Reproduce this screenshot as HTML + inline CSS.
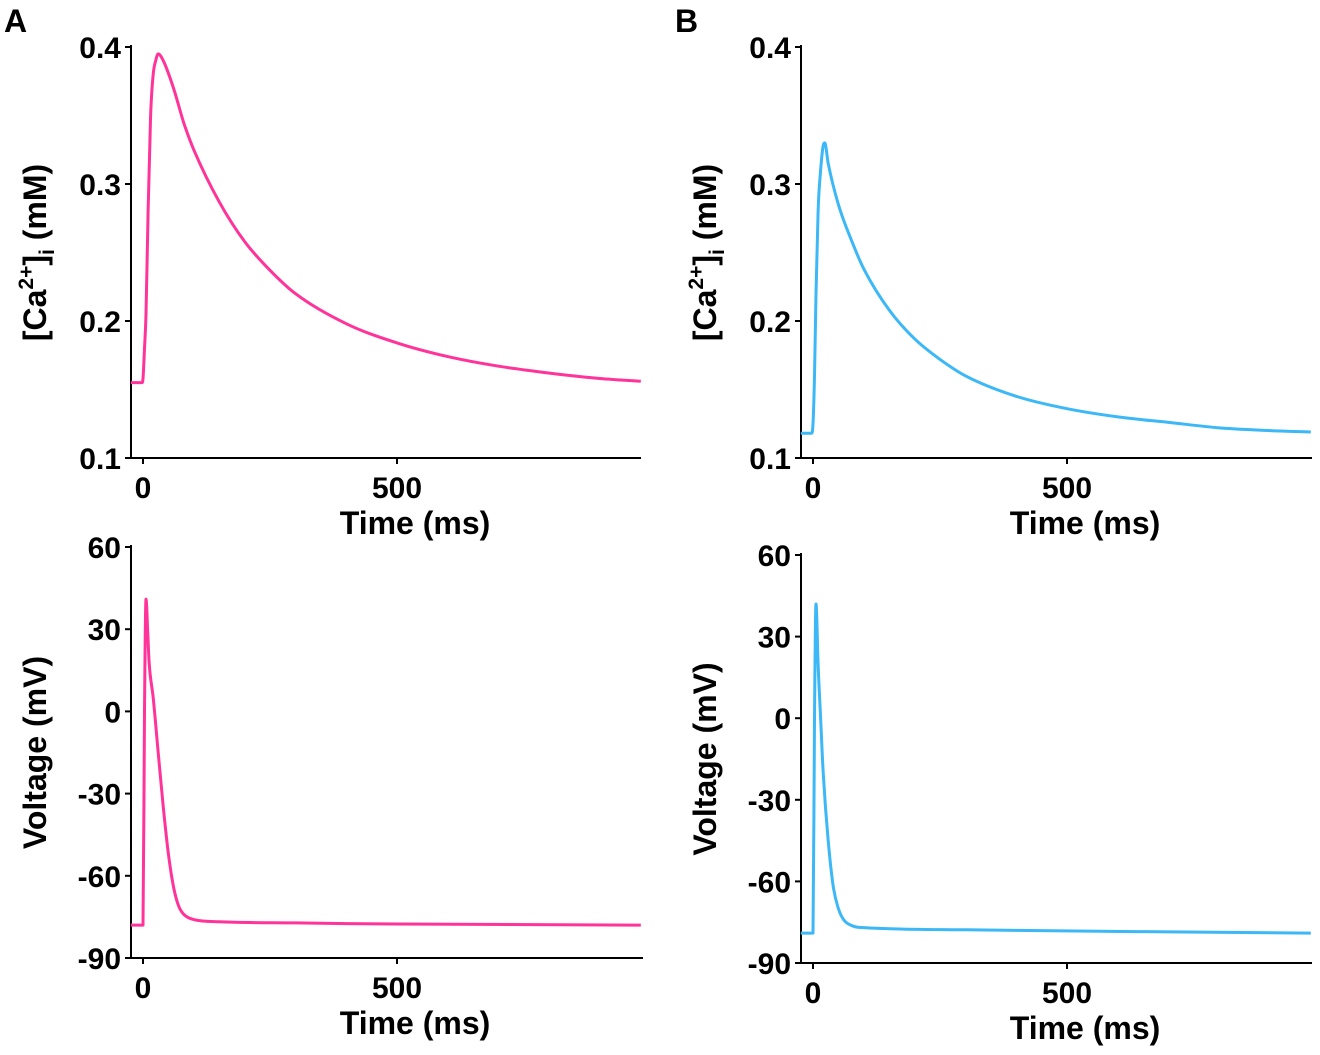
<!DOCTYPE html>
<html><head><meta charset="utf-8"><style>
html,body{margin:0;padding:0;background:#fff;}
svg{display:block;font-family:"Liberation Sans",Arial,sans-serif;font-weight:bold;}
</style></head><body>
<svg id="fig" width="1320" height="1055" viewBox="0 0 1320 1055">
<text x="4" y="32" font-size="32">A</text>
<text x="675" y="32" font-size="32">B</text>
</svg>
<script>
// Panel A calcium
const caA_t=[-24,-2,0,3,6,10,15,20,25,30,40,60,80,100,150,200,250,300,400,500,600,700,800,900,980];
const caA_v=[0.155,0.155,0.158,0.18,0.205,0.28,0.35,0.38,0.39,0.395,0.39,0.37,0.345,0.325,0.287,0.258,0.237,0.22,0.198,0.184,0.174,0.167,0.162,0.158,0.156];
// Panel B calcium
const caB_t=[-24,-3,0,3,6,10,15,20,23,30,50,80,100,150,200,250,300,400,500,600,700,800,900,980];
const caB_v=[0.118,0.118,0.125,0.16,0.22,0.28,0.31,0.328,0.33,0.315,0.285,0.255,0.238,0.208,0.187,0.172,0.16,0.145,0.136,0.13,0.126,0.122,0.12,0.119];
// Panel A voltage
const vA_t=[-24,-1,0,3,6,9,12,20,30,40,50,60,70,80,100,150,300,500,980];
const vA_v=[-78,-78,-78,0,41,30,18,5,-15,-35,-52,-64,-71,-74,-76,-76.8,-77.2,-77.6,-78];
// Panel B voltage
const vB_t=[-24,-1,0,3,6,10,15,20,30,40,50,60,80,100,300,980];
const vB_v=[-79,-79,-79,0,42,20,0,-20,-45,-62,-70,-74,-76.5,-77,-77.8,-79];
const caTicks=[0.4,0.3,0.2,0.1];
const caTickLabels=["0.4","0.3","0.2","0.1"];
const vTicks=[60,30,0,-30,-60,-90];
const vTickLabels=["60","30","0","-30","-60","-90"];
const xTicks=[0,500];
const xTickLabels=["0","500"];

const svg=document.getElementById('fig');
const NS='http://www.w3.org/2000/svg';
function mk(tag,attrs,parent){const e=document.createElementNS(NS,tag);for(const k in attrs)e.setAttribute(k,attrs[k]);(parent||svg).appendChild(e);return e;}

function monoPath(P){
  const n=P.length,d=[],m=[];
  for(let i=0;i<n-1;i++){d.push((P[i+1][1]-P[i][1])/(P[i+1][0]-P[i][0]));}
  m[0]=d[0];m[n-1]=d[n-2];
  for(let i=1;i<n-1;i++){m[i]=(d[i-1]*d[i]<=0)?0:(d[i-1]+d[i])/2;}
  for(let i=0;i<n-1;i++){
    if(d[i]===0){m[i]=0;m[i+1]=0;continue;}
    const a=m[i]/d[i],b=m[i+1]/d[i],s=a*a+b*b;
    if(s>9){const t=3/Math.sqrt(s);m[i]=t*a*d[i];m[i+1]=t*b*d[i];}
  }
  let s='M'+P[0][0].toFixed(1)+','+P[0][1].toFixed(1);
  for(let i=0;i<n-1;i++){
    const h=(P[i+1][0]-P[i][0])/3;
    s+=` C${(P[i][0]+h).toFixed(1)},${(P[i][1]+m[i]*h).toFixed(1)} ${(P[i+1][0]-h).toFixed(1)},${(P[i+1][1]-m[i+1]*h).toFixed(1)} ${P[i+1][0].toFixed(1)},${P[i+1][1].toFixed(1)}`;
  }
  return s;
}

function panel(p){
  const g=mk('g',{});
  
  
  const xs=t=>p.x0+(t-0)*(p.x500-p.x0)/500;
  const ys=v=>p.yTop+(p.vTop-v)*(p.yBot-p.yTop)/(p.vTop-p.vBot);
  const ax=mk('path',{d:`M${p.axX},${p.yTop-2} V${p.yBot} H${p.axR}`,fill:'none',stroke:'#000','stroke-width':2},g);
  
  
  p.ticks.forEach((v,i)=>{
    const y=ys(v);
    mk('line',{x1:p.axX-6,x2:p.axX,y1:y,y2:y,stroke:'#000','stroke-width':2},g);
    const t=mk('text',{x:p.axX-10,y:y+11,'font-size':30,'text-anchor':'end'},g);
    t.textContent=p.labels[i];
    
    
  });
  xTicks.forEach((v,i)=>{
    const x=xs(v);
    mk('line',{x1:x,x2:x,y1:p.yBot,y2:p.yBot+6,stroke:'#000','stroke-width':2},g);
    const t=mk('text',{x:x,y:p.yBot+40,'font-size':30,'text-anchor':'middle'},g);
    t.textContent=xTickLabels[i];
    
    
  });
  const xt=mk('text',{x:xs(500)+18,y:p.yBot+76,'font-size':32,'text-anchor':'middle'},g);
  xt.textContent='Time (ms)';
  
  
  const yt=mk('text',{transform:`translate(${p.axX-85},${(p.yTop+p.yBot)/2}) rotate(-90)`,'font-size':32,'text-anchor':'middle'},g);
  if(p.ca){yt.innerHTML='[Ca<tspan dy="-13" font-size="21">2+</tspan><tspan dy="13">]</tspan><tspan dy="8" font-size="21">i</tspan><tspan dy="-8"> (mM)</tspan>';}
  else yt.textContent='Voltage (mV)';
  
  
  const pts=p.t.map((t,i)=>[xs(t),ys(p.v[i])]);
  const ln=mk('path',{d:monoPath(pts),fill:'none',stroke:p.color,'stroke-width':3,'stroke-linejoin':'round'},g);
  
  
}
panel({name:'panel-a-calcium',axX:131,axR:641,x0:143,x500:397,yTop:47,yBot:458,vTop:0.4,vBot:0.1,ticks:caTicks,labels:caTickLabels,t:caA_t,v:caA_v,color:'#ff3399',ca:true});
panel({name:'panel-b-calcium',axX:801,axR:1312,x0:813,x500:1067,yTop:47,yBot:458,vTop:0.4,vBot:0.1,ticks:caTicks,labels:caTickLabels,t:caB_t,v:caB_v,color:'#3bb8f5',ca:true});
panel({name:'panel-a-voltage',axX:131,axR:643,x0:143,x500:397,yTop:547,yBot:958,vTop:60,vBot:-90,ticks:vTicks,labels:vTickLabels,t:vA_t,v:vA_v,color:'#ff3399',ca:false});
panel({name:'panel-b-voltage',axX:801,axR:1312,x0:813,x500:1067,yTop:555,yBot:963,vTop:60,vBot:-90,ticks:vTicks,labels:vTickLabels,t:vB_t,v:vB_v,color:'#3bb8f5',ca:false});
</script>
</body></html>
